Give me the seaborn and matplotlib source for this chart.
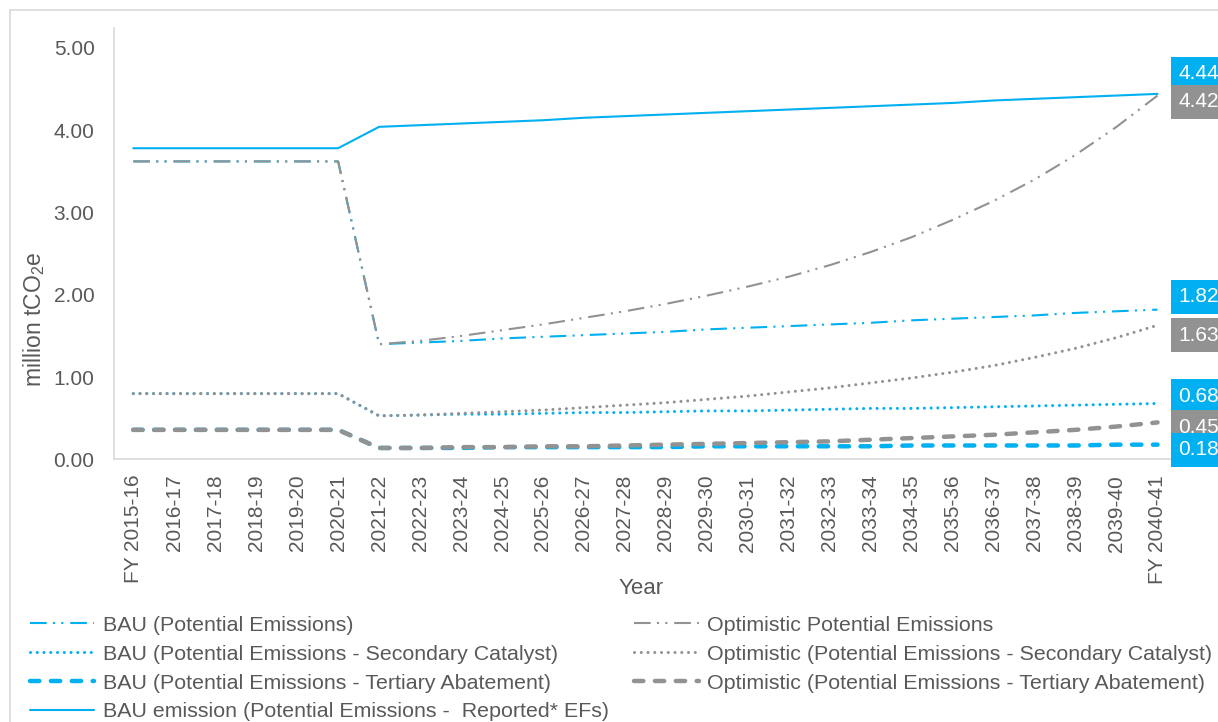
import numpy as np
import pandas as pd
import matplotlib

matplotlib.use("Agg")
import matplotlib.pyplot as plt
from matplotlib.patches import Rectangle
import seaborn as sns

# ---- data (million tCO2e) ----
years = [
    "FY 2015-16", "2016-17", "2017-18", "2018-19", "2019-20", "2020-21",
    "2021-22", "2022-23", "2023-24", "2024-25", "2025-26", "2026-27",
    "2027-28", "2028-29", "2029-30", "2030-31", "2031-32", "2032-33",
    "2033-34", "2034-35", "2035-36", "2036-37", "2037-38", "2038-39",
    "2039-40", "FY 2040-41",
]

bau_potential = [
    3.62, 3.62, 3.62, 3.62, 3.62, 3.62,
    1.40, 1.42, 1.44, 1.47, 1.49, 1.51, 1.53, 1.55, 1.58, 1.60,
    1.62, 1.64, 1.66, 1.69, 1.71, 1.73, 1.75, 1.78, 1.80, 1.82,
]
bau_secondary = [
    0.80, 0.80, 0.80, 0.80, 0.80, 0.80,
    0.53, 0.54, 0.55, 0.55, 0.56, 0.57, 0.57, 0.58, 0.59, 0.59,
    0.60, 0.61, 0.62, 0.62, 0.63, 0.64, 0.65, 0.66, 0.67, 0.68,
]
bau_tertiary = [
    0.36, 0.36, 0.36, 0.36, 0.36, 0.36,
    0.14, 0.14, 0.14, 0.15, 0.15, 0.15, 0.15, 0.15, 0.16, 0.16,
    0.16, 0.16, 0.16, 0.17, 0.17, 0.17, 0.17, 0.17, 0.18, 0.18,
]
bau_reported = [
    3.78, 3.78, 3.78, 3.78, 3.78, 3.78,
    4.04, 4.06, 4.08, 4.10, 4.12, 4.15, 4.17, 4.19, 4.21, 4.23,
    4.25, 4.27, 4.29, 4.31, 4.33, 4.36, 4.38, 4.40, 4.42, 4.44,
]
opt_potential = [
    3.62, 3.62, 3.62, 3.62, 3.62, 3.62,
    1.40, 1.44, 1.50, 1.57, 1.64, 1.72, 1.80, 1.89, 1.99, 2.10,
    2.22, 2.36, 2.52, 2.70, 2.91, 3.14, 3.40, 3.70, 4.04, 4.42,
]
opt_secondary = [
    0.80, 0.80, 0.80, 0.80, 0.80, 0.80,
    0.53, 0.54, 0.56, 0.58, 0.60, 0.63, 0.66, 0.69, 0.73, 0.77,
    0.82, 0.87, 0.93, 0.99, 1.06, 1.14, 1.24, 1.35, 1.48, 1.63,
]
opt_tertiary = [
    0.36, 0.36, 0.36, 0.36, 0.36, 0.36,
    0.14, 0.14, 0.15, 0.15, 0.16, 0.16, 0.17, 0.18, 0.19, 0.20,
    0.21, 0.22, 0.24, 0.26, 0.28, 0.30, 0.33, 0.36, 0.40, 0.45,
]

BLUE = "#00B0F0"
GREY = "#929292"
TEXT = "#595959"

sns.set_theme(style="white")
plt.rcParams["font.family"] = ["Liberation Sans", "DejaVu Sans"]
plt.rcParams["mathtext.fontset"] = "custom"
plt.rcParams["mathtext.rm"] = "Liberation Sans"
plt.rcParams["mathtext.default"] = "regular"

df = pd.DataFrame({
    "pos": np.arange(len(years)),
    "year": years,
    "bau_potential": bau_potential,
    "bau_secondary": bau_secondary,
    "bau_tertiary": bau_tertiary,
    "bau_reported": bau_reported,
    "opt_potential": opt_potential,
    "opt_secondary": opt_secondary,
    "opt_tertiary": opt_tertiary,
})

dashdotdot = (0, (8, 3, 1, 3, 1, 3.3))
dotted = (0, (0.01, 2.2))
dashed = (0, (2.1, 2.6))

# column, legend label, colour, linestyle, linewidth, capstyle
series = [
    ("bau_potential", "BAU (Potential Emissions)", BLUE, dashdotdot, 1.5, "butt"),
    ("bau_secondary", "BAU (Potential Emissions - Secondary Catalyst)", BLUE, dotted, 2.2, "round"),
    ("bau_tertiary", "BAU (Potential Emissions - Tertiary Abatement)", BLUE, dashed, 3.2, "round"),
    ("bau_reported", "BAU emission (Potential Emissions -  Reported* EFs)", BLUE, "-", 1.5, "butt"),
    ("opt_potential", "Optimistic Potential Emissions", GREY, dashdotdot, 1.5, "butt"),
    ("opt_secondary", "Optimistic (Potential Emissions - Secondary Catalyst)", GREY, dotted, 2.2, "round"),
    ("opt_tertiary", "Optimistic (Potential Emissions - Tertiary Abatement)", GREY, dashed, 3.2, "round"),
]

fig = plt.figure(figsize=(12.18, 7.22), dpi=100)
ax = fig.add_axes([0.0936, 0.3636, 0.8719, 0.5976])

for col, label, color, ls, lw, cap in series:
    sns.lineplot(data=df, x="pos", y=col, ax=ax, color=color, linestyle=ls,
                 linewidth=lw, label=label, sort=False,
                 dash_capstyle=cap, solid_capstyle="round")

ax.set_xlim(-0.47, 25.45)
ax.set_ylim(0, 5.24)
ax.set_yticks([0, 1, 2, 3, 4, 5])
ax.set_yticklabels([f"{v:.2f}" for v in [0, 1, 2, 3, 4, 5]])
ax.set_xticks(df["pos"])
ax.set_xticklabels(years, rotation=90)
ax.tick_params(axis="both", length=0, labelsize=15, labelcolor=TEXT)
ax.tick_params(axis="y", pad=14)
ax.tick_params(axis="x", pad=11)

for side in ["top", "right"]:
    ax.spines[side].set_visible(False)
for side in ["left", "bottom"]:
    ax.spines[side].set_color("#D9D9D9")
    ax.spines[side].set_linewidth(1.2)

ax.set_xlabel("Year", fontsize=16, color=TEXT)
ax.xaxis.set_label_coords(0.496, -0.3)
ax.xaxis.label.set_va("center")
ax.set_ylabel("million tCO$_2$e", fontsize=16.5, color=TEXT)
ax.yaxis.set_label_coords(-0.075, 0.325)
ax.yaxis.label.set_va("center")

# end-of-line value labels (value, colour, vertical nudge in pixels)
end_labels = [
    ("bau_reported", BLUE, 20),
    ("opt_potential", GREY, -6),
    ("bau_potential", BLUE, 13),
    ("opt_secondary", GREY, -10),
    ("bau_secondary", BLUE, 7),
    ("opt_tertiary", GREY, -5),
    ("bau_tertiary", BLUE, -5),
]
last = df["pos"].iloc[-1]
for col, color, dy in end_labels:
    val = df[col].iloc[-1]
    ax.annotate(f"{val:.2f}", xy=(last, val), xytext=(21, dy),
                textcoords="offset pixels", ha="left", va="center",
                fontsize=15, color="white", annotation_clip=False,
                bbox=dict(boxstyle="square,pad=0.36", fc=color, ec="none"))

ax.get_legend().remove()
handles, labels = ax.get_legend_handles_labels()
fig.legend(handles, labels, loc="upper left", bbox_to_anchor=(0.0246, 0.147),
           ncol=2, frameon=False, fontsize=15.4, labelcolor=TEXT,
           handlelength=3.0, handletextpad=0.4, columnspacing=1.2,
           labelspacing=0.46, borderpad=0, borderaxespad=0)

# light chart border
fig.patches.append(Rectangle((10 / 1218, -0.05), 1.1, 0.05 + 712 / 722,
                             transform=fig.transFigure, fill=False,
                             ec="#D9D9D9", lw=1.2))

fig.savefig("out.png", dpi=100)
